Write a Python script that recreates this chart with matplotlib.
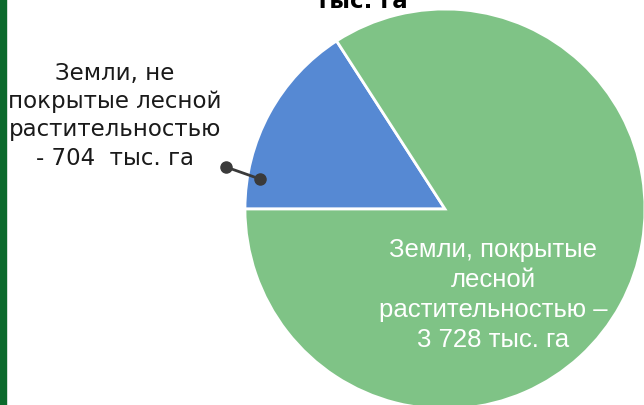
import matplotlib.pyplot as plt

labels = ["Земли, не\nпокрытые лесной\nрастительностью\n- 704  тыс. га",
          "Земли, покрытые\nлесной\nрастительностью –\n3 728 тыс. га"]
values = [704, 3728]
colors = ["#5689d3", "#7fc386"]

fig = plt.figure(figsize=(6.44, 4.06), dpi=100)
ax = fig.add_axes([0.3804, -0.00985, 0.6211, 0.9852])

ax.pie(values, colors=colors, startangle=180, counterclock=False, radius=1,
       wedgeprops={"edgecolor": "white", "linewidth": 2})
ax.set_xlim(-1, 1)
ax.set_ylim(-1, 1)
ax.set_aspect("equal")
ax.axis("off")

# leader from the left label to the small slice
ax.plot([-1.095, -0.925], [0.21, 0.15], color="#3a3a3a", lw=2,
        marker="o", ms=8, clip_on=False)

fig.text(0.178, 0.715, labels[0], ha="center", va="center", fontsize=16.5,
         family="DejaVu Sans", color="#1a1a1a", linespacing=1.3)
ax.text(0.24, -0.425, labels[1], ha="center", va="center", fontsize=18.5,
        family="Liberation Sans", color="white", linespacing=1.32)

fig.text(0.562, 1 - 8 / 406, "тыс. га", ha="center", va="baseline",
         fontsize=16.5, fontweight="bold", family="DejaVu Sans")

# dark green stripe on the left edge
fig.patches.append(plt.Rectangle((0, 0), 6 / 644, 1, transform=fig.transFigure,
                                 color="#0b6a2c", zorder=5))

fig.savefig("out.png", dpi=100)
